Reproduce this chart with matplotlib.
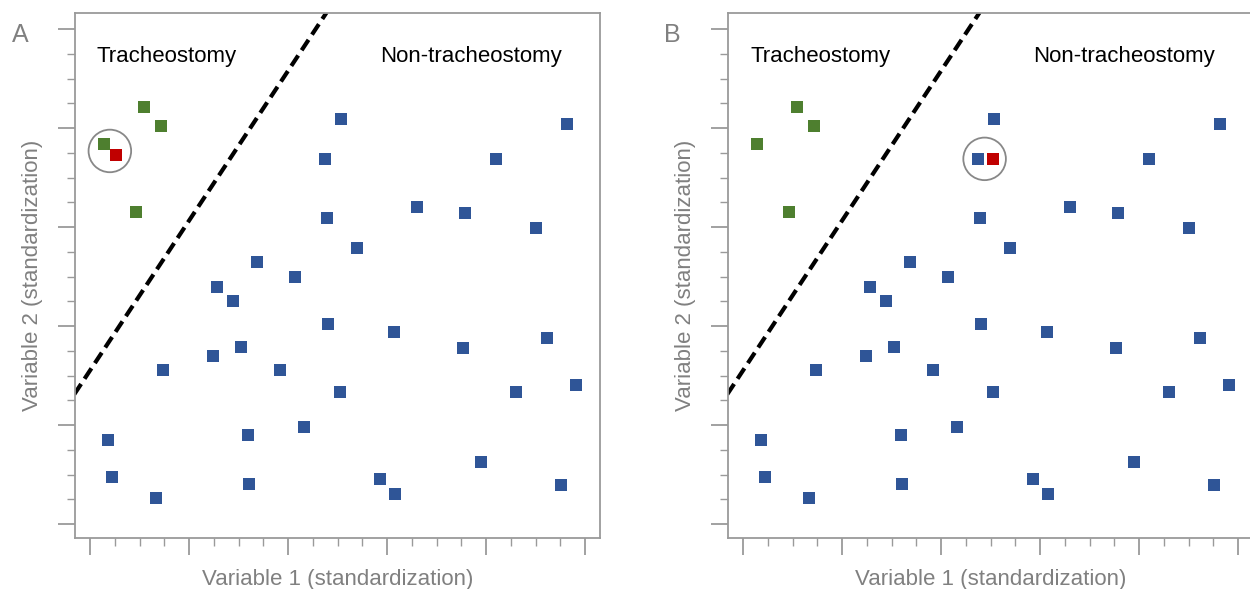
import matplotlib.pyplot as plt
from matplotlib.patches import Circle
from matplotlib.ticker import MultipleLocator

plt.rcParams['font.family'] = ['Liberation Sans', 'DejaVu Sans']

# blue = non-tracheostomy patients (same in both panels)
blue_x = [2.53, 2.37, 2.39, 2.70, 1.69, 2.07, 1.28, 1.44, 2.40, 3.07, 1.52, 1.24,
          0.74, 1.92, 2.52, 3.30, 3.79, 4.10, 4.82, 4.50, 4.62, 3.77, 4.30, 4.91,
          0.18, 1.60, 2.16, 3.95, 0.22, 0.67, 1.61, 2.93, 3.08, 4.76]
blue_y = [4.09, 3.69, 3.09, 2.79, 2.65, 2.50, 2.40, 2.25, 2.02, 1.94, 1.79, 1.70,
          1.56, 1.56, 1.33, 3.20, 3.14, 3.69, 4.04, 2.99, 1.88, 1.78, 1.33, 1.41,
          0.85, 0.90, 0.98, 0.63, 0.48, 0.26, 0.40, 0.46, 0.30, 0.39]

# green = tracheostomy patients
green_x = [0.54, 0.72, 0.14, 0.46]
green_y = [4.21, 4.02, 3.84, 3.15]

# red = the new patient, A: near tracheostomy group, B: near non-tracheostomy group
red_a = (0.26, 3.73)
red_b = (2.52, 3.69)

# decision boundary (dashed)
line_x = [-0.16, 2.39]
line_y = [1.31, 5.17]

panels = ['A', 'B']
blue_c = '#2F5597'
green_c = '#4E7F2F'
red_c = '#C00000'
grey = '#9a9a9a'
lab_c = '#808080'

fig = plt.figure(figsize=(12.5, 5.89), dpi=100)
positions = [[0.06, 0.0866, 0.42, 0.891], [0.5824, 0.0866, 0.42, 0.891]]

for i, name in enumerate(panels):
    ax = fig.add_axes(positions[i])
    ax.set_xlim(-0.152, 5.151)
    ax.set_ylim(-0.141, 5.162)

    ax.plot(line_x, line_y, color='black', lw=3.0, ls=(0, (3.0, 1.5)), zorder=2)

    ax.plot(blue_x, blue_y, 's', color=blue_c, ms=8.3, mew=0, zorder=3)
    ax.plot(green_x, green_y, 's', color=green_c, ms=8.3, mew=0, zorder=3)
    if name == 'A':
        ax.plot(*red_a, 's', color=red_c, ms=8.3, mew=0, zorder=3)
        ax.add_patch(Circle((0.20, 3.77), 0.215, fill=False, ec='#888888', lw=1.3, zorder=4))
        ax.text(0.07, 4.72, 'Tracheostomy', fontsize=16, va='center')
        ax.text(2.93, 4.72, 'Non-tracheostomy', fontsize=16, va='center')
    else:
        ax.plot(*red_b, 's', color=red_c, ms=8.3, mew=0, zorder=3)
        ax.add_patch(Circle((2.44, 3.69), 0.215, fill=False, ec='#888888', lw=1.3, zorder=4))
        ax.text(0.08, 4.72, 'Tracheostomy', fontsize=16, va='center')
        ax.text(2.93, 4.72, 'Non-tracheostomy', fontsize=16, va='center')

    ax.xaxis.set_major_locator(MultipleLocator(1))
    ax.xaxis.set_minor_locator(MultipleLocator(0.25))
    ax.yaxis.set_major_locator(MultipleLocator(1))
    ax.yaxis.set_minor_locator(MultipleLocator(0.25))
    ax.tick_params(which='major', length=12, width=1.3, color=grey,
                   labelbottom=False, labelleft=False)
    ax.tick_params(which='minor', length=6, width=1.0, color=grey)
    for sp in ax.spines.values():
        sp.set_color(grey)
        sp.set_linewidth(1.3)

    ax.set_xlabel('Variable 1 (standardization)', fontsize=16, color=lab_c, labelpad=10)
    ax.set_ylabel('Variable 2 (standardization)', fontsize=16, color=lab_c, labelpad=11)

fig.text(0.016, 0.94, 'A', fontsize=18, color=lab_c, ha='center', va='center')
fig.text(0.538, 0.94, 'B', fontsize=18, color=lab_c, ha='center', va='center')

fig.savefig('out.png', dpi=100)
